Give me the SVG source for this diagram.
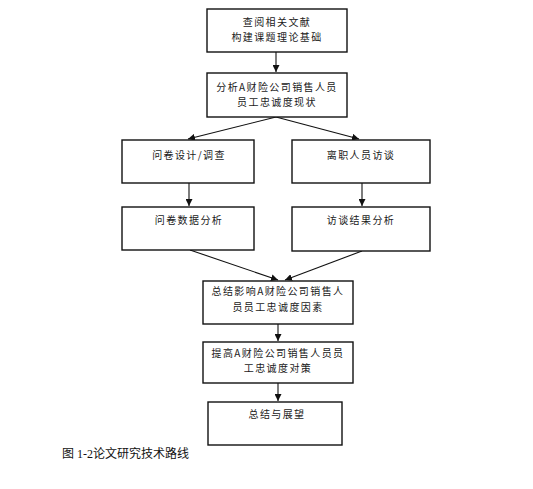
<svg xmlns="http://www.w3.org/2000/svg" width="533" height="489" viewBox="0 0 533 489">
<style>
.box{fill:#fff;stroke:#111;stroke-width:1.4}
.t{font-family:"Noto Sans CJK SC","Liberation Sans",sans-serif;font-size:10px;fill:#1a1a1a;text-anchor:middle;letter-spacing:1.4px}
.ln{stroke:#111;stroke-width:1.1;fill:none}
.cap{font-family:"Liberation Serif","Noto Sans CJK SC",serif;font-size:12px;fill:#111}
</style>
<defs>
<marker id="ah" viewBox="0 0 10 10" refX="10" refY="5" markerWidth="7" markerHeight="7" markerUnits="userSpaceOnUse" orient="auto">
<path d="M0,0 L10,5 L0,10 z" fill="#111"/>
</marker>
</defs>
<rect width="533" height="489" fill="#fff"/>
<g id="connectors">
<line class="ln" x1="276" y1="52" x2="276" y2="72" marker-end="url(#ah)"/>
<line class="ln" x1="276" y1="117" x2="188" y2="139" marker-end="url(#ah)"/>
<line class="ln" x1="276" y1="117" x2="359" y2="139" marker-end="url(#ah)"/>
<line class="ln" x1="189" y1="183" x2="189" y2="206" marker-end="url(#ah)"/>
<line class="ln" x1="362" y1="183" x2="362" y2="206" marker-end="url(#ah)"/>
<line class="ln" x1="190" y1="250" x2="278" y2="280" marker-end="url(#ah)"/>
<line class="ln" x1="362" y1="251" x2="285" y2="280" marker-end="url(#ah)"/>
<line class="ln" x1="278" y1="324" x2="278" y2="341" marker-end="url(#ah)"/>
<line class="ln" x1="278" y1="383" x2="278" y2="401" marker-end="url(#ah)"/>
</g>
<g id="n1"><rect class="box" x="207" y="9" width="140" height="43"/>
<text class="t" x="277" y="26">查阅相关文献</text><text class="t" x="277" y="41">构建课题理论基础</text></g>
<g id="n2"><rect class="box" x="207" y="73" width="140" height="44"/>
<text class="t" x="277" y="91">分析A财险公司销售人员</text><text class="t" x="277" y="106">员工忠诚度现状</text></g>
<g id="n3"><rect class="box" x="122" y="140" width="132" height="43"/>
<text class="t" x="189" y="159">问卷设计/调查</text></g>
<g id="n4"><rect class="box" x="292" y="140" width="138" height="43"/>
<text class="t" x="361" y="159">离职人员访谈</text></g>
<g id="n5"><rect class="box" x="122" y="207" width="132" height="43"/>
<text class="t" x="189" y="224">问卷数据分析</text></g>
<g id="n6"><rect class="box" x="292" y="207" width="138" height="44"/>
<text class="t" x="361" y="224">访谈结果分析</text></g>
<g id="n7"><rect class="box" x="203" y="281" width="150" height="43"/>
<text class="t" x="278" y="295">总结影响A财险公司销售人</text><text class="t" x="278" y="311">员员工忠诚度因素</text></g>
<g id="n8"><rect class="box" x="203" y="342" width="150" height="41"/>
<text class="t" x="278" y="357">提高A财险公司销售人员员</text><text class="t" x="278" y="372">工忠诚度对策</text></g>
<g id="n9"><rect class="box" x="208" y="402" width="134" height="43"/>
<text class="t" x="277" y="418">总结与展望</text></g>
<text class="cap" x="62" y="458">图 1-2论文研究技术路线</text>
</svg>
